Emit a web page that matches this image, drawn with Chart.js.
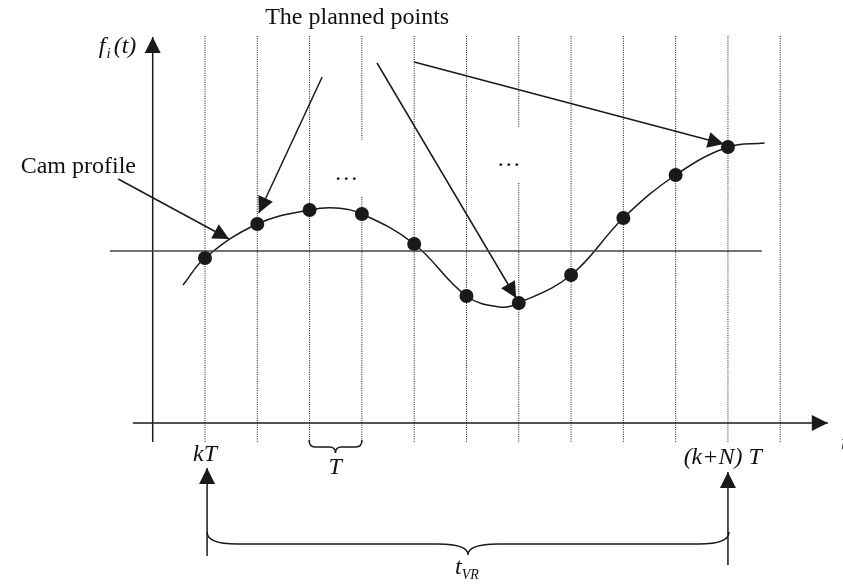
<!DOCTYPE html>
<html>
<head>
<meta charset="utf-8">
<script src="https://cdn.jsdelivr.net/npm/chart.js@4"></script>
<style>
  html, body { margin: 0; padding: 0; background: #ffffff; }
  #wrap { width: 843px; height: 585px; position: relative; }
</style>
</head>
<body>
<div id="wrap"><canvas id="camChart"></canvas></div>
<script>
// ================== DATA ====================
// horizontal unit = one sampling period T (k = 0 is kT), vertical unit = f_i(t)
const sampleK = [0, 1, 2, 3, 4, 5, 6, 7, 8, 9, 10];
const sampleValue = [-0.7, 2.7, 4.1, 3.7, 0.7, -4.5, -5.2, -2.4, 3.3, 7.6, 10.4];

const profileK = [-0.42, 0, 1, 2, 2.5, 3, 4, 5, 5.64, 6, 7, 8, 9, 10, 10.7];
const profileValue = [-3.4, -0.7, 2.7, 4.1, 4.3, 3.7, 0.7, -4.5, -5.6, -5.2, -2.4, 3.3, 7.6, 10.4, 10.8];

const gridK = [0, 1, 2, 3, 4, 5, 6, 7, 8, 9, 10, 11];
const gridTop = 21.5;
const gridBottom = -19.2;
const gapK = [3, 6];
const gapTop = [11.1, 12.3];
const gapBottom = [5.4, 6.8];

const pointerFromK = [-1.66, 2.24, 3.29, 4.0];
const pointerFromV = [7.2, 17.4, 18.8, 18.9];
const pointerToK = [0.46, 1.03, 5.95, 9.92];
const pointerToV = [1.2, 3.8, -4.7, 10.7];

const markK = [0.04, 10.0];
const markTop = [-21.7, -22.1];
const markBottom = [-30.5, -31.4];

// axes: vertical f_i(t) axis, time axis, zero line
const fAxisK = -1;
const fAxisRange = [-19.1, 21.4];
const tAxisValue = -17.2;
const tAxisRange = [-1.38, 11.91];
const zeroRange = [-1.82, 10.65];

// braces: [from k, to k, end value, line value, tip value]
const periodBrace = [1.99, 3.0, -18.9, -19.6, -20.2];
const horizonBrace = [0.04, 10.02, -28.1, -29.3, -30.4];

const textNotes = [
  { text: "The planned points", k: 2.91, v: 23.3, align: "center" },
  { text: "Cam profile", k: -1.32, v: 8.4, align: "right" },
  { text: "…", k: 2.7, v: 7.7, align: "center" },
  { text: "…", k: 5.81, v: 9.1, align: "center" },
  { text: "kT", k: 0, v: -20.4, align: "center", italic: true },
  { text: "T", k: 2.49, v: -21.7, align: "center", italic: true },
  { text: "(k+N) T", k: 9.9, v: -20.7, align: "center", italic: true },
  { text: "t", k: 12.16, v: -19.3, align: "left", italic: true }
];

// ================== DATASETS ====================
const ink = "#1a1a1a";
const datasets = [];

function seg(points, extra) {
  return Object.assign({
    data: points,
    showLine: true,
    borderColor: ink,
    borderWidth: 1.5,
    pointRadius: 0,
    fill: false
  }, extra || {});
}

gridK.forEach(k => {
  const gi = gapK.indexOf(k);
  const dotted = { borderColor: "#111", borderWidth: 1, borderDash: [1, 1.3] };
  if (gi === -1) {
    datasets.push(seg([{ x: k, y: gridTop }, { x: k, y: gridBottom }], dotted));
  } else {
    datasets.push(seg([{ x: k, y: gridTop }, { x: k, y: gapTop[gi] }], dotted));
    datasets.push(seg([{ x: k, y: gapBottom[gi] }, { x: k, y: gridBottom }], Object.assign({}, dotted)));
  }
});

datasets.push(seg([{ x: zeroRange[0], y: 0 }, { x: zeroRange[1], y: 0 }], { borderColor: "#444" }));
datasets.push(seg([{ x: fAxisK, y: fAxisRange[0] }, { x: fAxisK, y: fAxisRange[1] }], { arrow: true }));
datasets.push(seg([{ x: tAxisRange[0], y: tAxisValue }, { x: tAxisRange[1], y: tAxisValue }], { arrow: true }));

// cam profile: smooth curve through the planned points
datasets.push(seg(profileK.map((k, i) => ({ x: k, y: profileValue[i] })), { tension: 0.4 }));

pointerFromK.forEach((k, i) => {
  datasets.push(seg([{ x: k, y: pointerFromV[i] }, { x: pointerToK[i], y: pointerToV[i] }], { arrow: true }));
});

markK.forEach((k, i) => {
  datasets.push(seg([{ x: k, y: markBottom[i] }, { x: k, y: markTop[i] }], { arrow: true }));
});

datasets.push({
  data: sampleK.map((k, i) => ({ x: k, y: sampleValue[i] })),
  showLine: false,
  pointRadius: 7,
  pointBackgroundColor: ink,
  pointBorderColor: ink,
  pointBorderWidth: 0
});

// ================== DRAWING HELPERS ====================
function arrowHead(c, fx, fy, tx, ty) {
  const ang = Math.atan2(ty - fy, tx - fx);
  const len = 16, half = 8;
  c.save();
  c.translate(tx, ty);
  c.rotate(ang);
  c.beginPath();
  c.moveTo(0, 0);
  c.lineTo(-len, -half);
  c.lineTo(-len, half);
  c.closePath();
  c.fillStyle = ink;
  c.fill();
  c.restore();
}

function brace(c, sx, sy, b, r) {
  const x1 = sx.getPixelForValue(b[0]);
  const x2 = sx.getPixelForValue(b[1]);
  const yEnd = sy.getPixelForValue(b[2]);
  const yLine = sy.getPixelForValue(b[3]);
  const yTip = sy.getPixelForValue(b[4]);
  const xc = (x1 + x2) / 2;
  c.beginPath();
  c.moveTo(x1, yEnd);
  c.quadraticCurveTo(x1, yLine, x1 + r, yLine);
  c.lineTo(xc - r, yLine);
  c.quadraticCurveTo(xc, yLine, xc, yTip);
  c.quadraticCurveTo(xc, yLine, xc + r, yLine);
  c.lineTo(x2 - r, yLine);
  c.quadraticCurveTo(x2, yLine, x2, yEnd);
  c.strokeStyle = ink;
  c.lineWidth = 1.5;
  c.stroke();
}

const decorations = {
  id: "decorations",
  afterDatasetsDraw(chart) {
    const c = chart.ctx;
    const sx = chart.scales.x, sy = chart.scales.y;

    chart.data.datasets.forEach(ds => {
      if (!ds.arrow) return;
      const a = ds.data[ds.data.length - 2], b = ds.data[ds.data.length - 1];
      arrowHead(c, sx.getPixelForValue(a.x), sy.getPixelForValue(a.y),
                sx.getPixelForValue(b.x), sy.getPixelForValue(b.y));
    });

    brace(c, sx, sy, periodBrace, 6);
    brace(c, sx, sy, horizonBrace, 30);

    c.save();
    c.fillStyle = "#111";
    c.textBaseline = "middle";
    textNotes.forEach(n => {
      c.font = (n.italic ? "italic " : "") + "24px 'Liberation Serif', 'Times New Roman', serif";
      c.textAlign = n.align;
      c.fillText(n.text, sx.getPixelForValue(n.k), sy.getPixelForValue(n.v));
    });

    // f_i(t) with subscript
    c.textAlign = "left";
    let px = sx.getPixelForValue(-2.03);
    const py = sy.getPixelForValue(20.4);
    c.font = "italic 24px 'Liberation Serif', serif";
    c.fillText("f", px, py);
    px += c.measureText("f").width + 1;
    c.font = "italic 15px 'Liberation Serif', serif";
    c.fillText("i", px, py + 7);
    px += c.measureText("i").width + 3;
    c.font = "italic 24px 'Liberation Serif', serif";
    c.fillText("(t)", px, py);

    // t_VR with subscript
    let qx = sx.getPixelForValue(4.78);
    const qy = sy.getPixelForValue(-31.7);
    c.font = "italic 24px 'Liberation Serif', serif";
    c.fillText("t", qx, qy);
    qx += c.measureText("t").width;
    c.font = "italic 14px 'Liberation Serif', serif";
    c.fillText("VR", qx, qy + 7);
    c.restore();
  }
};

new Chart(document.getElementById("camChart"), {
  type: "scatter",
  data: { datasets: datasets },
  options: {
    responsive: true,
    maintainAspectRatio: false,
    animation: false,
    layout: { padding: 0, autoPadding: false },
    scales: {
      x: { type: "linear", min: -3.92, max: 12.2, display: false },
      y: { type: "linear", min: -33.4, max: 25.1, display: false }
    },
    plugins: {
      legend: { display: false },
      tooltip: { enabled: false }
    }
  },
  plugins: [decorations]
});
</script>
</body>
</html>
